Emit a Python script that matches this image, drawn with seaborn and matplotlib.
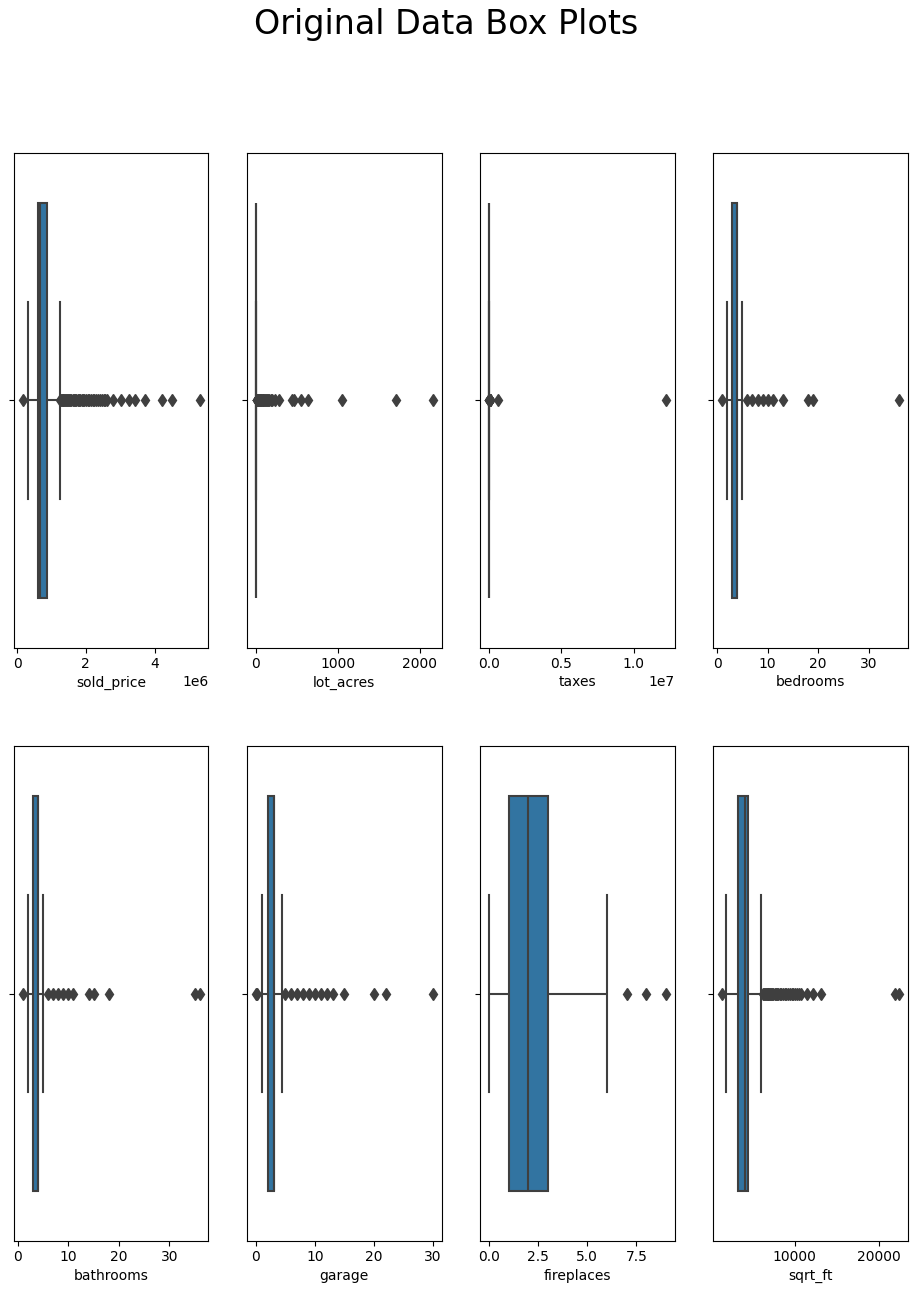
import matplotlib
matplotlib.use('Agg')
import numpy as np
import pandas as pd
import seaborn as sns
import matplotlib.pyplot as plt

# box stats per column: [low whisker, Q1, median, Q3, high whisker]
sold_price_box = [310000, 600000, 680000, 860000, 1240000]
sold_price_out = [170000, 1260000, 1280000, 1300000, 1325000, 1350000, 1375000, 1400000,
                  1430000, 1460000, 1490000, 1520000, 1550000, 1580000, 1620000, 1650000,
                  1690000, 1720000, 1760000, 1800000, 1840000, 1880000, 1920000, 1960000,
                  2000000, 2050000, 2100000, 2150000, 2200000, 2250000, 2300000, 2350000,
                  2400000, 2460000, 2520000, 2570000, 2620000, 2790000, 3020000, 3260000,
                  3430000, 3710000, 4210000, 4510000, 5310000]

lot_acres_box = [0, 0.5, 1.0, 3.0, 6.5]
lot_acres_out = [7, 8, 9, 10, 12, 14, 16, 18, 20, 23, 26, 30, 34, 38, 42, 47, 52, 58, 65,
                 72, 80, 90, 100, 110, 120, 135, 150, 165, 180, 192, 232, 285, 437, 465,
                 555, 641, 1053, 1710, 2158]

taxes_box = [0, 4800, 7000, 9800, 17000]
taxes_out = [18000, 20000, 22000, 25000, 28000, 32000, 36000, 42000, 50000, 60000,
             75000, 95000, 644000, 12215718]

bedrooms_box = [2, 3, 4, 4, 5]
bedrooms_out = [1, 6, 7, 8, 9, 10, 11, 13, 18, 19, 36]

bathrooms_box = [2, 3, 4, 4, 5]
bathrooms_out = [1, 6, 7, 8, 9, 10, 11, 14, 15, 18, 35, 36]

garage_box = [1, 2, 3, 3, 4.5]
garage_out = [0, 0.1, 5, 6, 7, 8, 9, 10, 11, 12, 13, 15, 20, 22, 30]

fireplaces_box = [0, 1, 2, 3, 6]
fireplaces_out = [7, 8, 9]

sqrt_ft_box = [1786, 3250, 4010, 4440, 5950]
sqrt_ft_out = [1349, 6250, 6350, 6450, 6550, 6650, 6750, 6850, 6950, 7050, 7150, 7300,
               7450, 7600, 7750, 7900, 8050, 8200, 8400, 8600, 8800, 9000, 9200, 9400,
               9600, 9800, 10000, 10250, 10500, 10700, 11470, 12180, 13060, 21900, 22380]

# how many rows sit on each box value (keeps the quartiles where they are)
core_counts = [1, 200, 200, 200, 1]

columns = {
    'sold_price': (sold_price_box, sold_price_out),
    'lot_acres': (lot_acres_box, lot_acres_out),
    'taxes': (taxes_box, taxes_out),
    'bedrooms': (bedrooms_box, bedrooms_out),
    'bathrooms': (bathrooms_box, bathrooms_out),
    'garage': (garage_box, garage_out),
    'fireplaces': (fireplaces_box, fireplaces_out),
    'sqrt_ft': (sqrt_ft_box, sqrt_ft_out),
}

fig, axes = plt.subplots(2, 4, figsize=(9.17, 12.91), dpi=100)
plt.subplots_adjust(left=0.0153, right=0.9899, top=0.8813, bottom=0.0390,
                    wspace=0.199, hspace=0.2)

gray = '#3f3f3f'
for ax, (name, (box, out)) in zip(axes.flat, columns.items()):
    values = np.concatenate([np.repeat(box, core_counts), out]).astype(float)
    sns.boxplot(x=pd.Series(values, name=name), ax=ax, color='#3274a1',
                saturation=1, linecolor=gray, linewidth=1.5, width=0.8,
                flierprops=dict(marker='d', markersize=6,
                                markerfacecolor=gray, markeredgecolor=gray))
    ax.set_yticks([0], [''])
    ax.set_ylim(0.5, -0.5)
    ax.set_xlabel(name, labelpad=3)
    for s in ax.spines.values():
        s.set_visible(True)
        s.set_color('black')

fig.suptitle('Original Data Box Plots', fontsize=24, x=0.486, y=0.994)
plt.savefig('out.png', dpi=100)
